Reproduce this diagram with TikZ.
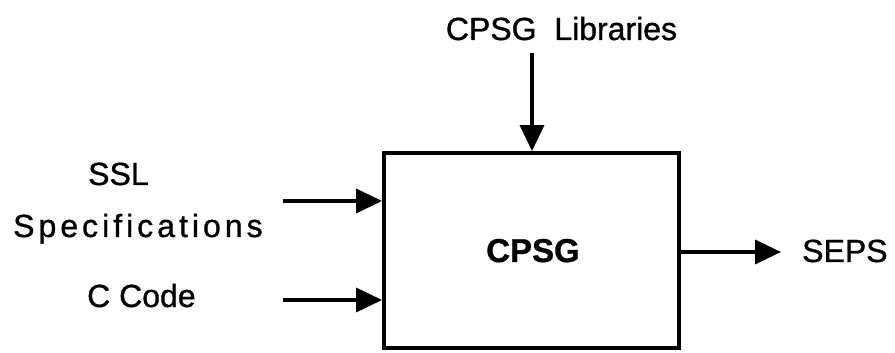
\documentclass[tikz,border=0pt]{standalone}
\usepackage{fontspec}
\setmainfont{Liberation Sans}[UprightFeatures={FakeBold=1.0},BoldFeatures={FakeBold=1.0}]
\usetikzlibrary{arrows.meta}
\begin{document}
\begin{tikzpicture}[x=1pt,y=1pt,
  lbl/.style={inner sep=0pt,font=\fontsize{32}{36}\selectfont},
  arr/.style={line width=3.6pt,-{Triangle[length=26pt,width=24pt]}},
  boxst/.style={draw,line width=3.8pt,minimum width=295pt,minimum height=195pt,inner sep=0pt}]
\useasboundingbox (0,0) rectangle (895,353);
\node[boxst] (box) at (531.5,102.5) {};
\node[lbl,font=\fontsize{33}{36}\selectfont\bfseries,anchor=base] (cpsg) at (533,91) {CPSG};
\node[lbl,anchor=base] (lib) at (561.5,313) {CPSG\ \ Libraries};
\node[lbl,anchor=base west] (ssl) at (88,168) {SSL};
\node[lbl,anchor=base west] (spec) at (13,116) {\addfontfeature{LetterSpace=12.5}Specifications};
\node[lbl,anchor=base west] (ccode) at (87,46) {C Code};
\node[lbl,anchor=base west] (seps) at (802,91) {SEPS};
\coordinate (libtop) at (532,300);
\coordinate (sslst) at (283,152);
\coordinate (ccst) at (283,53);
\coordinate (sepsend) at (781,101);
\draw[arr] (libtop) -- (libtop |- box.north);
\draw[arr] (sslst) -- (sslst -| box.west);
\draw[arr] (ccst) -- (ccst -| box.west);
\draw[arr] (sepsend -| box.east) -- (sepsend);
\end{tikzpicture}
\end{document}
